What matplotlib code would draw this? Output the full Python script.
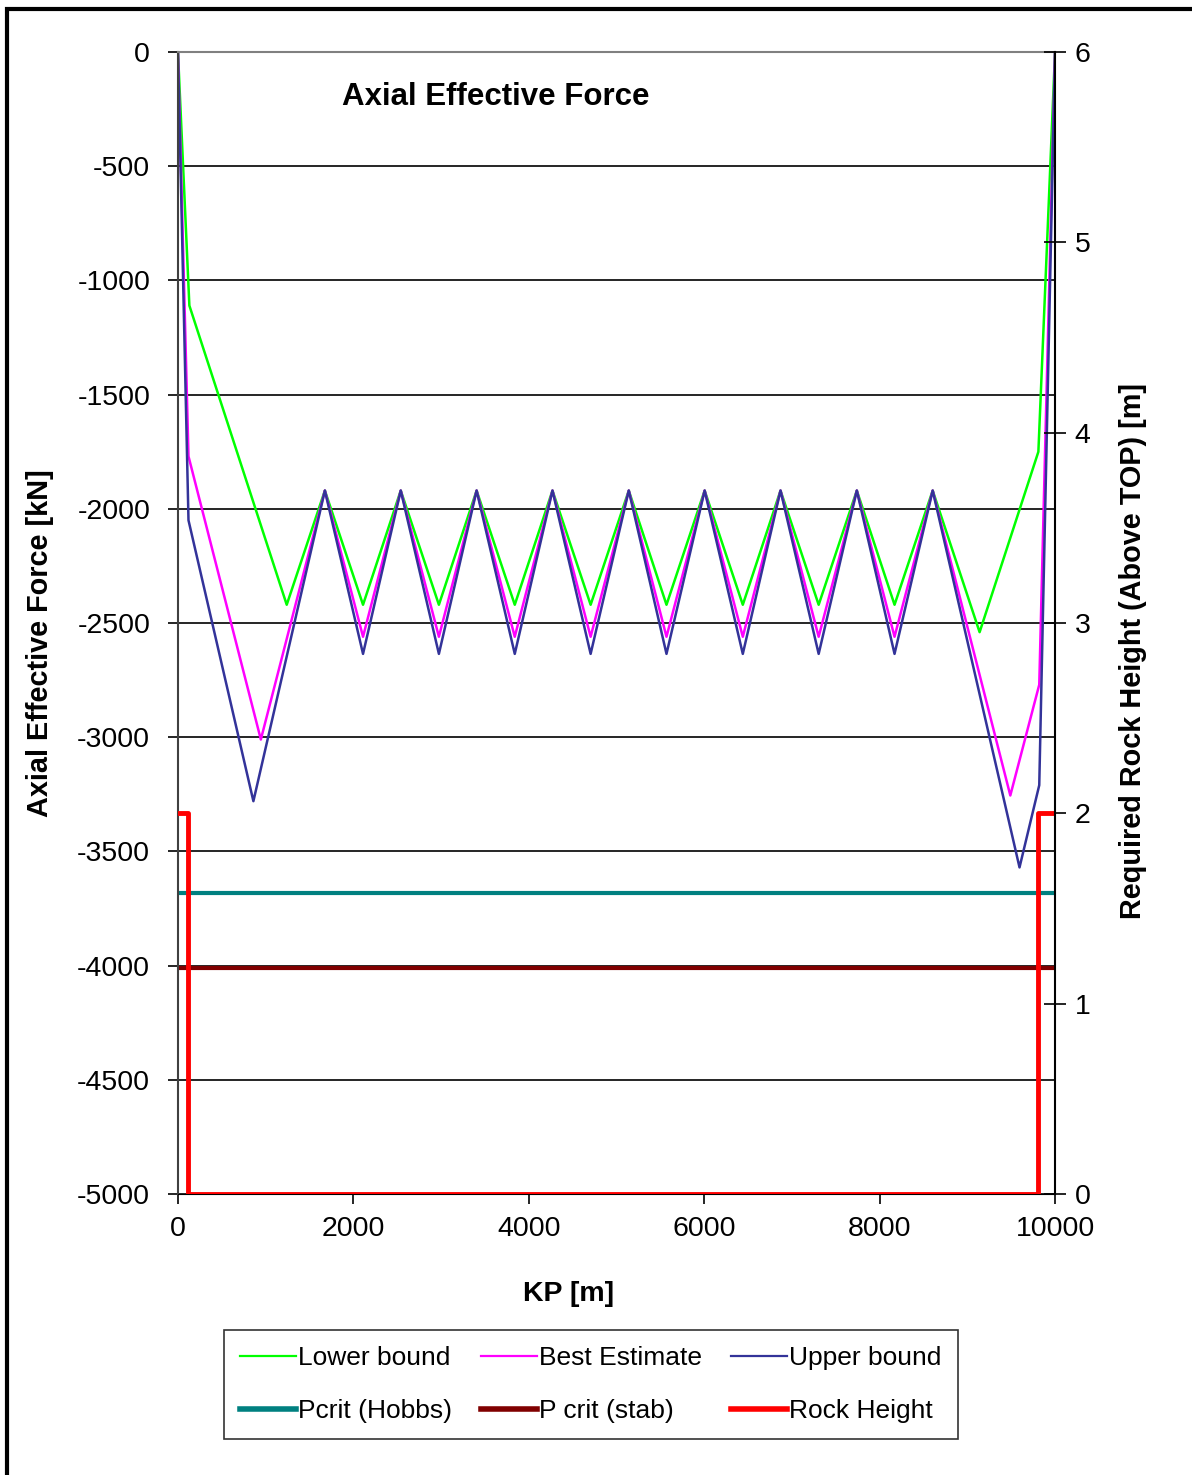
import matplotlib.pyplot as plt
from matplotlib.lines import Line2D
from matplotlib.patches import Rectangle

plt.rcParams['font.family'] = ['Liberation Sans', 'DejaVu Sans']
plt.rcParams['axes.unicode_minus'] = False

# KP of the peaks / troughs in the middle section (shared by all 3 cases)
mid_kp = [1675, 2110, 2540, 2975, 3405, 3840, 4270, 4705, 5140, 5570,
          6005, 6440, 6870, 7305, 7740, 8170, 8605]

# Lower bound
lower_kp = [0, 130, 1240] + mid_kp + [9140, 9810, 10000]
lower_f = [0, -1110, -2420,
           -1920, -2420, -1920, -2420, -1920, -2420, -1920, -2420, -1920,
           -2420, -1920, -2420, -1920, -2420, -1920, -2420, -1920,
           -2540, -1750, 0]

# Best estimate
best_kp = [0, 120, 945] + mid_kp + [9490, 9820, 10000]
best_f = [0, -1770, -3010,
          -1920, -2560, -1920, -2560, -1920, -2560, -1920, -2560, -1920,
          -2560, -1920, -2560, -1920, -2560, -1920, -2560, -1920,
          -3255, -2770, 0]

# Upper bound
upper_kp = [0, 120, 860] + mid_kp + [9595, 9820, 10000]
upper_f = [0, -2050, -3280,
           -1920, -2635, -1920, -2635, -1920, -2635, -1920, -2635, -1920,
           -2635, -1920, -2635, -1920, -2635, -1920, -2635, -1920,
           -3570, -3210, 0]

# critical buckling forces
pcrit_hobbs = -3680
pcrit_stab = -4012

# rock height (right axis)
rock_kp = [0, 120, 120, 9810, 9810, 10000]
rock_h = [2, 2, 0, 0, 2, 2]

fig = plt.figure(figsize=(11.92, 14.75), dpi=100)
ax = fig.add_axes([0.1493, 0.1905, 0.7358, 0.7742])

ax.set_xlim(0, 10000)
ax.set_ylim(-5000, 0)
ax.set_yticks(range(-5000, 1, 500))
ax.set_xticks(range(0, 10001, 2000))
ax.yaxis.grid(True, color='black', linewidth=1.2)
ax.set_axisbelow(True)

ax.plot(lower_kp, lower_f, color='#00ff00', lw=1.8)
ax.plot(best_kp, best_f, color='#ff00ff', lw=1.8)
ax.plot(upper_kp, upper_f, color='#333399', lw=1.8)
ax.axhline(pcrit_hobbs, color='#008080', lw=3)
ax.axhline(pcrit_stab, color='#800000', lw=3)

ax.spines['top'].set_color('#808080')
ax.spines['top'].set_linewidth(1.5)
ax.spines['left'].set_color('#404040')
ax.spines['left'].set_linewidth(1.5)
ax.spines['right'].set_visible(False)
ax.tick_params(axis='y', direction='out', length=7, width=1.2, pad=13, labelsize=20.5)
ax.tick_params(axis='x', direction='out', length=7, width=1.2, pad=9, labelsize=20.5)

ax.text(0.362, 0.961, 'Axial Effective Force', transform=ax.transAxes,
        ha='center', va='center', fontsize=22.5, fontweight='bold')

ax2 = ax.twinx()
ax2.set_ylim(0, 6)
ax2.set_yticks(range(0, 7))
ax2.plot(rock_kp, rock_h, color='#ff0000', lw=3.5)
ax2.spines['right'].set_color('black')
ax2.spines['right'].set_linewidth(1.5)
for s in ['top', 'left', 'bottom']:
    ax2.spines[s].set_visible(False)
ax2.tick_params(axis='y', direction='inout', length=16, width=1.2, pad=6, labelsize=20.5)

# axis titles placed like the original chart
fig.text(40 / 1192, 1 - 643 / 1475, 'Axial Effective Force [kN]', rotation=90,
         ha='center', va='center', fontsize=20.8, fontweight='bold')
fig.text(1133 / 1192, 1 - 651 / 1475, 'Required Rock Height (Above TOP) [m]',
         rotation=90, ha='center', va='center', fontsize=20.8, fontweight='bold')
fig.text(569 / 1192, 1 - 1294 / 1475, 'KP [m]', ha='center', va='center',
         fontsize=20.5, fontweight='bold')

# legend, 3 columns filled row by row in the reference
handles = [
    Line2D([], [], color='#00ff00', lw=1.6),
    Line2D([], [], color='#008080', lw=4),
    Line2D([], [], color='#ff00ff', lw=1.6),
    Line2D([], [], color='#800000', lw=4),
    Line2D([], [], color='#333399', lw=1.6),
    Line2D([], [], color='#ff0000', lw=4),
]
labels = ['Lower bound', 'Pcrit (Hobbs)', 'Best Estimate', 'P crit (stab)',
          'Upper bound', 'Rock Height']
leg = fig.legend(handles, labels, ncol=3, loc='center',
                 bbox_to_anchor=(591 / 1192, 1 - 1384.5 / 1475),
                 fontsize=19, frameon=True, fancybox=False, edgecolor='black',
                 handlelength=2.1, handletextpad=0.1, columnspacing=1.1,
                 labelspacing=1.1, borderpad=0.6)
leg.get_frame().set_linewidth(1.2)

# chart border (only left and top visible in the crop)
fig.patches.append(Rectangle((7 / 1192, -0.1), 1.2, 1.1 - 9 / 1475,
                             transform=fig.transFigure, fill=False,
                             edgecolor='black', linewidth=3))

fig.savefig('out.png', dpi=100)
